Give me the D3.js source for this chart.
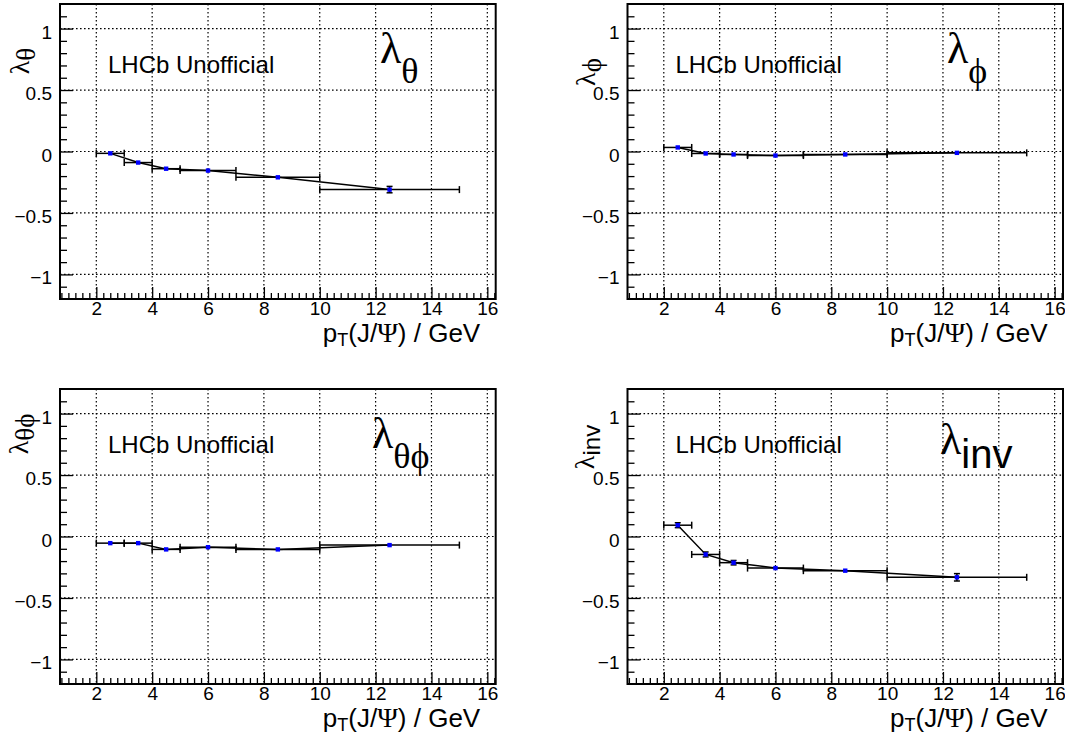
<!DOCTYPE html>
<html>
<head>
<meta charset="utf-8">
<script src="https://cdn.jsdelivr.net/npm/d3@7"></script>
<style>
  html, body { margin: 0; padding: 0; background: #fff; }
  svg { display: block; }
</style>
</head>
<body>
<svg id="chart" width="1065" height="735"></svg>
<script>
// pT bins of the J/psi (GeV): centre, lower and upper edge
const ptCenters = [2.5, 3.5, 4.5, 6, 8.5, 12.5];
const ptLow     = [2, 3, 4, 5, 7, 10];
const ptHigh    = [3, 4, 5, 7, 10, 15];

// polarisation parameters per bin, with statistical errors
const lambdaTheta       = [-0.015, -0.09, -0.14, -0.155, -0.21, -0.31];
const lambdaThetaErr    = [0.01, 0.01, 0.01, 0.01, 0.01, 0.026];
const lambdaPhi         = [0.033, -0.016, -0.024, -0.033, -0.024, -0.011];
const lambdaPhiErr      = [0.008, 0.008, 0.008, 0.008, 0.008, 0.01];
const lambdaThetaPhi    = [-0.054, -0.054, -0.105, -0.087, -0.105, -0.07];
const lambdaThetaPhiErr = [0.008, 0.008, 0.008, 0.008, 0.008, 0.01];
const lambdaInv         = [0.092, -0.146, -0.213, -0.257, -0.278, -0.332];
const lambdaInvErr      = [0.02, 0.02, 0.018, 0.016, 0.016, 0.03];

// axis ticks
const xTickValues = [2, 4, 6, 8, 10, 12, 14, 16];
const yTickValues = [-1, -0.5, 0, 0.5, 1];
const xDomain = [0.7, 16.3];
const yDomain = [-1.2, 1.2];

const watermark = "LHCb Unofficial";

// panel frames and label placement
const panels = [
  { values: lambdaTheta, errors: lambdaThetaErr, sub: "θ", subSans: false,
    frame: { x0: 60, x1: 495.7, y0: 4, y1: 299 },
    yTitle: { x: 29, yMid: 61 }, big: { x: 380, y: 63 } },
  { values: lambdaPhi, errors: lambdaPhiErr, sub: "\u03D5", subSans: false,
    frame: { x0: 627.5, x1: 1063, y0: 4, y1: 299 },
    yTitle: { x: 595, yMid: 72 }, big: { x: 947, y: 63 } },
  { values: lambdaThetaPhi, errors: lambdaThetaPhiErr, sub: "θ\u03D5", subSans: false,
    frame: { x0: 60, x1: 495.7, y0: 389, y1: 684 },
    yTitle: { x: 28, yMid: 434 }, big: { x: 372, y: 448 } },
  { values: lambdaInv, errors: lambdaInvErr, sub: "inv", subSans: true,
    frame: { x0: 627.5, x1: 1063, y0: 389, y1: 684 },
    yTitle: { x: 594, yMid: 447 }, big: { x: 940, y: 454 } }
];

const SANS = "'Liberation Sans', Arial, Helvetica, sans-serif";
const SERIF = "'Liberation Serif', 'DejaVu Serif', 'Times New Roman', serif";
const fmt = d => (d < 0 ? "\u2212" + Math.abs(d) : String(d));

const svg = d3.select("#chart");

panels.forEach(p => {
  const f = p.frame;
  const x = d3.scaleLinear().domain(xDomain).range([f.x0, f.x1]);
  const y = d3.scaleLinear().domain(yDomain).range([f.y1, f.y0]);
  const g = svg.append("g");

  // dotted grid at the major ticks
  const grid = g.append("g").attr("stroke", "#000").attr("stroke-width", 1.2)
    .attr("stroke-dasharray", "1.6,2.4");
  grid.selectAll("line.gx").data(xTickValues).join("line").attr("class", "gx")
    .attr("x1", d => x(d)).attr("x2", d => x(d)).attr("y1", f.y0).attr("y2", f.y1);
  grid.selectAll("line.gy").data(yTickValues).join("line").attr("class", "gy")
    .attr("x1", f.x0).attr("x2", f.x1).attr("y1", d => y(d)).attr("y2", d => y(d));

  // x axis: major + minor ticks pointing inward
  const xMinor = d3.range(3, 66).filter(k => k % 8 !== 0).map(k => k / 4);
  const xAxis = g.append("g").attr("transform", `translate(0,${f.y1})`)
    .call(d3.axisBottom(x).tickValues(xTickValues).tickSize(-12).tickPadding(2).tickFormat(fmt));
  g.append("g").attr("transform", `translate(0,${f.y1})`)
    .call(d3.axisBottom(x).tickValues(xMinor).tickSize(-6).tickFormat(""))
    .call(a => a.select(".domain").remove());

  // y axis
  const yMinor = d3.range(-11, 12).filter(k => k % 5 !== 0).map(k => k / 10);
  const yAxis = g.append("g").attr("transform", `translate(${f.x0},0)`)
    .call(d3.axisLeft(y).tickValues(yTickValues).tickSize(-13).tickPadding(8).tickFormat(fmt));
  g.append("g").attr("transform", `translate(${f.x0},0)`)
    .call(d3.axisLeft(y).tickValues(yMinor).tickSize(-7).tickFormat(""))
    .call(a => a.select(".domain").remove());

  [xAxis, yAxis].forEach(a => {
    a.select(".domain").remove();
    a.selectAll("text").attr("font-family", SANS).attr("font-size", 19).attr("fill", "#000");
  });
  yAxis.selectAll("text").attr("dy", "0.5em");
  g.selectAll(".tick line").attr("stroke", "#000").attr("stroke-width", 1.3);

  // frame
  g.append("rect").attr("x", f.x0).attr("y", f.y0)
    .attr("width", f.x1 - f.x0).attr("height", f.y1 - f.y0)
    .attr("fill", "none").attr("stroke", "#000").attr("stroke-width", 2);

  // data: horizontal (bin width) and vertical (stat) error bars
  const pts = ptCenters.map((c, i) => ({ c, lo: ptLow[i], hi: ptHigh[i], v: p.values[i], e: p.errors[i] }));
  const eb = g.append("g").attr("stroke", "#000").attr("stroke-width", 1.5).attr("fill", "none");
  pts.forEach(d => {
    const yy = y(d.v);
    eb.append("line").attr("x1", x(d.lo)).attr("x2", x(d.hi)).attr("y1", yy).attr("y2", yy);
    eb.append("line").attr("x1", x(d.lo)).attr("x2", x(d.lo)).attr("y1", yy - 3.5).attr("y2", yy + 3.5);
    eb.append("line").attr("x1", x(d.hi)).attr("x2", x(d.hi)).attr("y1", yy - 3.5).attr("y2", yy + 3.5);
    const yt = y(d.v + d.e), yb = y(d.v - d.e);
    if (yy - yt > 2.2) {
      const xc = x(d.c);
      eb.append("line").attr("x1", xc).attr("x2", xc).attr("y1", yt).attr("y2", yb);
      eb.append("line").attr("x1", xc - 3).attr("x2", xc + 3).attr("y1", yt).attr("y2", yt);
      eb.append("line").attr("x1", xc - 3).attr("x2", xc + 3).attr("y1", yb).attr("y2", yb);
    }
  });

  // connecting line
  g.append("path").datum(pts)
    .attr("d", d3.line().x(d => x(d.c)).y(d => y(d.v)))
    .attr("fill", "none").attr("stroke", "#000").attr("stroke-width", 1.5);

  // markers
  g.selectAll("rect.mk").data(pts).join("rect").attr("class", "mk")
    .attr("x", d => x(d.c) - 2.2).attr("y", d => y(d.v) - 2.2)
    .attr("width", 4.4).attr("height", 4.4).attr("fill", "#0000ff");

  // watermark
  g.append("text").attr("x", f.x0 + 48).attr("y", f.y0 + (f.y0 < 100 ? 68.7 : 64.3))
    .attr("font-family", SANS).attr("font-size", 24).attr("fill", "#000").text(watermark);

  // large parameter label in the upper right
  const big = g.append("text").attr("x", p.big.x).attr("y", p.big.y).attr("fill", "#000");
  big.append("tspan").attr("font-family", SERIF).attr("font-size", 44).text("λ");
  big.append("tspan").attr("font-family", p.subSans ? SANS : SERIF)
    .attr("font-size", p.subSans ? 40 : 36).attr("dy", p.subSans ? 14 : 20).text(p.sub);

  // y axis title (rotated)
  const yt = g.append("text")
    .attr("transform", `translate(${p.yTitle.x},${p.yTitle.yMid}) rotate(-90)`)
    .attr("text-anchor", "middle").attr("fill", "#000");
  yt.append("tspan").attr("font-family", SERIF).attr("font-size", 28).text("λ");
  yt.append("tspan").attr("font-family", p.subSans ? SANS : SERIF)
    .attr("font-size", p.subSans ? 24 : 27).attr("dy", 6).text(p.sub);

  // x axis title
  const xt = g.append("text").attr("x", f.x1 - 15.5).attr("y", f.y1 + 43)
    .attr("text-anchor", "end").attr("font-family", SANS).attr("font-size", 26).attr("fill", "#000");
  xt.append("tspan").text("p");
  xt.append("tspan").attr("font-size", 18).attr("dy", 4).text("T");
  xt.append("tspan").attr("dy", -4).text("(J/");
  xt.append("tspan").attr("font-family", SERIF).attr("font-size", 28).text("Ψ");
  xt.append("tspan").text(") / GeV");
});
</script>
</body>
</html>
